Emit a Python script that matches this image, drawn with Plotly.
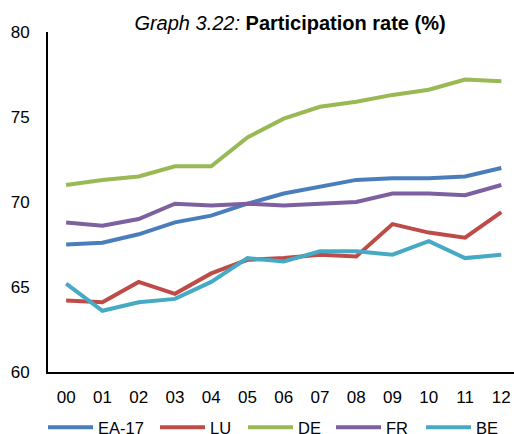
import plotly.graph_objects as go

years = ["00", "01", "02", "03", "04", "05", "06", "07", "08", "09", "10", "11", "12"]

ea17 = [67.5, 67.6, 68.1, 68.8, 69.2, 69.9, 70.5, 70.9, 71.3, 71.4, 71.4, 71.5, 72.0]
lu = [64.2, 64.1, 65.3, 64.6, 65.8, 66.6, 66.7, 66.9, 66.8, 68.7, 68.2, 67.9, 69.4]
de = [71.0, 71.3, 71.5, 72.1, 72.1, 73.8, 74.9, 75.6, 75.9, 76.3, 76.6, 77.2, 77.1]
fr = [68.8, 68.6, 69.0, 69.9, 69.8, 69.9, 69.8, 69.9, 70.0, 70.5, 70.5, 70.4, 71.0]
be = [65.2, 63.6, 64.1, 64.3, 65.3, 66.7, 66.5, 67.1, 67.1, 66.9, 67.7, 66.7, 66.9]

series = [
    ("EA-17", ea17, "#4A7EBB"),
    ("LU", lu, "#BE4B48"),
    ("DE", de, "#98B954"),
    ("FR", fr, "#7D60A0"),
    ("BE", be, "#46AAC5"),
]

W, H = 514, 434
# left edge (px) of each legend entry, Excel-style spacing
legend_left = [43, 155, 243, 331, 421]

fig = go.Figure()
legends = {}
for i, (name, vals, color) in enumerate(series):
    key = "legend" if i == 0 else f"legend{i + 1}"
    fig.add_trace(go.Scatter(
        x=list(range(len(years))), y=vals, name=name, mode="lines",
        line=dict(color=color, width=4), legend=key,
    ))
    legends[key] = dict(
        orientation="h", xref="container", x=legend_left[i] / W, xanchor="left",
        yref="container", y=1 - 410 / H, yanchor="top",
        font=dict(size=16.5), itemwidth=45,
        bgcolor="rgba(0,0,0,0)",
    )

fig.update_layout(
    width=W, height=H,
    margin=dict(l=48, r=0, t=32, b=62, autoexpand=False),
    paper_bgcolor="white", plot_bgcolor="white",
    font=dict(family="Liberation Sans, Arial, sans-serif", size=17, color="black"),
    title=dict(
        text="<i>Graph 3.22:</i> <b>Participation rate (%)</b>",
        x=290 / W, xanchor="center", xref="container",
        y=1 - 23 / H, yanchor="middle", yref="container",
        font=dict(size=20),
    ),
    showlegend=True,
    xaxis=dict(
        tickmode="array", tickvals=list(range(len(years))), ticktext=years,
        range=[-0.5, 12.35], showgrid=False, zeroline=False,
        showline=True, linecolor="black", linewidth=2, ticks="",
        ticklabelstandoff=9, automargin=False,
    ),
    yaxis=dict(
        range=[60, 80], dtick=5, showgrid=False, zeroline=False,
        showline=True, linecolor="black", linewidth=2, ticks="",
        ticklabelstandoff=13, automargin=False,
    ),
    **legends,
)

# drop the default body margin so the figure fills the window exactly
fig.write_html("out.html", config={"displayModeBar": False},
               post_script="document.body.style.margin='0';")
